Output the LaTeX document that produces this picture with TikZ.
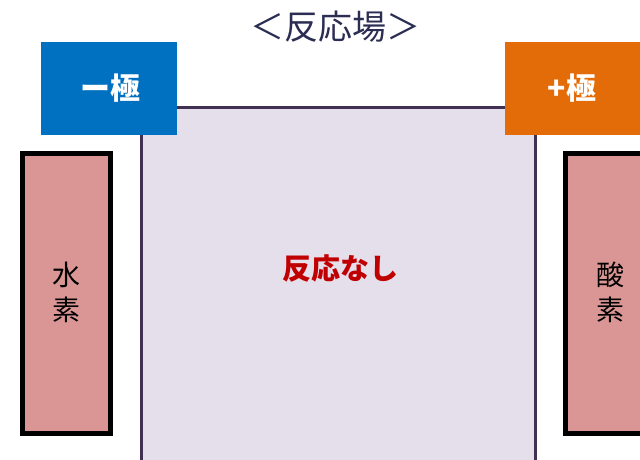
\documentclass[tikz,border=0pt]{standalone}
\usepackage{fontspec}
\newfontfamily\jp{Noto Sans CJK JP}
\definecolor{navy}{HTML}{2B2D52}
\definecolor{poleblue}{HTML}{0070C0}
\definecolor{poleorange}{HTML}{E36C09}
\definecolor{fieldfill}{HTML}{E5DFEC}
\definecolor{fieldline}{HTML}{403152}
\definecolor{gasfill}{HTML}{D99694}
\definecolor{nored}{HTML}{C00000}
\begin{document}
\begin{tikzpicture}[x=1pt,y=-1pt,
  gas/.style={draw=black,line width=5pt,fill=gasfill},
  pole/.style={text=white,font=\jp\bfseries\fontsize{30}{32}\selectfont},
  gaslabel/.style={font=\jp\fontsize{28}{35}\selectfont,align=center,text=black}]
\useasboundingbox (0,0) rectangle (640,460);
\clip (0,0) rectangle (640,460);
\fill[white] (0,0) rectangle (640,460);
% reaction field
\draw[fill=fieldfill,draw=fieldline,line width=3pt] (141,470) -- (141,107) -- (535,107) -- (535,470);
\node (field) at (340,268) {\textcolor{nored}{\jp\bfseries\fontsize{29}{31}\selectfont 反応なし}};
% title
\node[text=navy,font=\jp\fontsize{34}{38}\selectfont] (title) at (335,27) {＜反応場＞};
% poles
\fill[poleblue] (41,42) rectangle (177,135);
\node[pole] (neg) at (110,88) {ー極};
\fill[poleorange] (505,42) rectangle (645,135);
\node[pole] (pos) at (572,88) {+極};
% gases
\draw[gas] (22.5,153.5) rectangle (110.5,433.5);
\node[gaslabel] (h2) at (66,292) {水\\素};
\draw[gas] (565.5,153.5) rectangle (660,433.5);
\node[gaslabel] (o2) at (610,292) {酸\\素};
\end{tikzpicture}
\end{document}
